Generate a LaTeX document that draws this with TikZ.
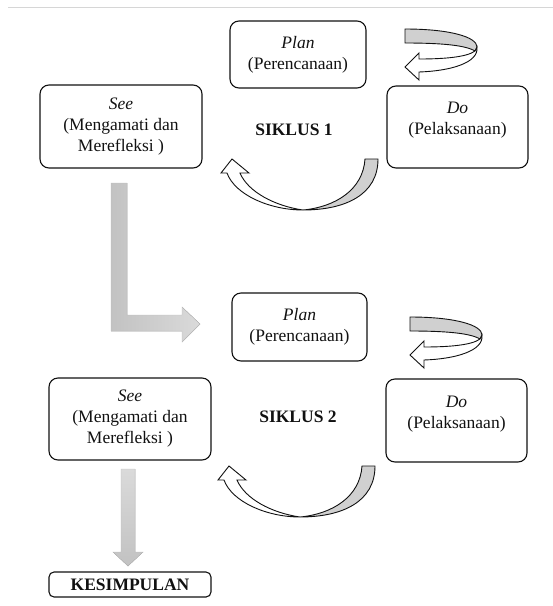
\documentclass[tikz,border=0pt]{standalone}
\usepackage{fontspec}
\setmainfont{Liberation Serif}
\usetikzlibrary{calc}
\definecolor{ink}{HTML}{111111}
\definecolor{band}{HTML}{D0D0D0}
\definecolor{blocka}{HTML}{C2C2C2}
\definecolor{blockb}{HTML}{DADADA}
\definecolor{blockline}{HTML}{BDBDBD}
\definecolor{rule}{HTML}{D6D6D6}
\newcommand{\boxfont}{\fontsize{17.5}{21}\selectfont}
% turning arrow between Plan and Do, local origin at its tail
\newcommand{\turnarrow}{%
\filldraw[fill=band,draw=ink,line width=0.9pt] (0,0) .. controls (45,0) and (72,8) .. (72,18) -- (70,22) .. controls (60,16) and (35,14) .. (0,14) -- cycle;
\filldraw[fill=white,draw=ink,line width=0.9pt] (72,18) .. controls (74,34) and (45,42) .. (14,43) -- (14,51) -- (0,38) -- (14,24) -- (14,30) .. controls (40,30) and (62,28) .. (70,22) -- cycle;}
% swinging arrow from Do back to See, local origin at its lowest point
\newcommand{\swingarrow}{%
\filldraw[fill=band,draw=ink,line width=0.9pt] (62,-51) -- (75,-51) .. controls (75,-15) and (42,0) .. (0,0) .. controls (32,-3) and (60,-20) .. (62,-51) -- cycle;
\filldraw[fill=white,draw=ink,line width=0.9pt] (0,0) .. controls (-33,0) and (-68,-15) .. (-76,-37) -- (-82,-37) -- (-71,-51) -- (-54,-37) -- (-63,-37) .. controls (-55,-18) and (-28,-4) .. (0,0) -- cycle;}
\tikzset{
  stage/.style={draw=ink,line width=1.1pt,rounded corners=9pt,align=center,inner sep=0pt},
  label/.style={align=center,inner sep=0pt},
  block/.style={draw=blockline,line width=0.4pt}
}

\begin{document}
\begin{tikzpicture}[x=1pt,y=-1pt,font=\boxfont,text=ink]
\useasboundingbox (0,0) rectangle (553,606);
\draw[rule,line width=0.8pt] (8,7) -- (553,7);
% siklus 1
\node[stage,minimum width=136pt,minimum height=67pt] (plan1) at (298,54.5) {\textit{Plan}\\(Perencanaan)};
\node[stage,minimum width=141pt,minimum height=82pt] (do1) at (457.5,127) {};
\node[label] (do1txt) at ($(do1.center)+(0,-7)$) {\textit{Do}\\(Pelaksanaan)};
\node[stage,minimum width=162pt,minimum height=83pt] (see1) at (121,126.5) {\textit{See}\\(Mengamati dan\\Merefleksi )};
\node[label,font=\boxfont\bfseries] (cyc1) at (294,130) {SIKLUS 1};
\begin{scope}[shift={(405,29)}] \turnarrow \end{scope}
\begin{scope}[shift={(303,210)}] \swingarrow \end{scope}
% siklus 1 ke siklus 2
\filldraw[block,left color=blocka,right color=blockb] (111,183) -- (127,183) -- (127,315) -- (182,315) -- (182,307) -- (200,324) -- (182,342) -- (182,331) -- (111,331) -- cycle;
% siklus 2
\node[stage,minimum width=135pt,minimum height=68pt] (plan2) at (299.5,327) {\textit{Plan}\\(Perencanaan)};
\node[stage,minimum width=141pt,minimum height=83pt] (do2) at (456.5,420.5) {};
\node[label] (do2txt) at ($(do2.center)+(0,-6.5)$) {\textit{Do}\\(Pelaksanaan)};
\node[stage,minimum width=162pt,minimum height=82pt] (see2) at (130,419) {\textit{See}\\(Mengamati dan\\Merefleksi )};
\node[label,font=\boxfont\bfseries] (cyc2) at (298,417) {SIKLUS 2};
\begin{scope}[shift={(410,317)}] \turnarrow \end{scope}
\begin{scope}[shift={(300,517)}] \swingarrow \end{scope}
% kesimpulan
\filldraw[block,top color=blockb,bottom color=blocka] (121,469) -- (135,469) -- (135,552) -- (143,552) -- (128,566) -- (113,552) -- (121,552) -- cycle;
\node[stage,rounded corners=5pt,minimum width=162pt,minimum height=25pt,font=\boxfont\bfseries] (end) at (130,584.5) {KESIMPULAN};
\end{tikzpicture}
\end{document}
